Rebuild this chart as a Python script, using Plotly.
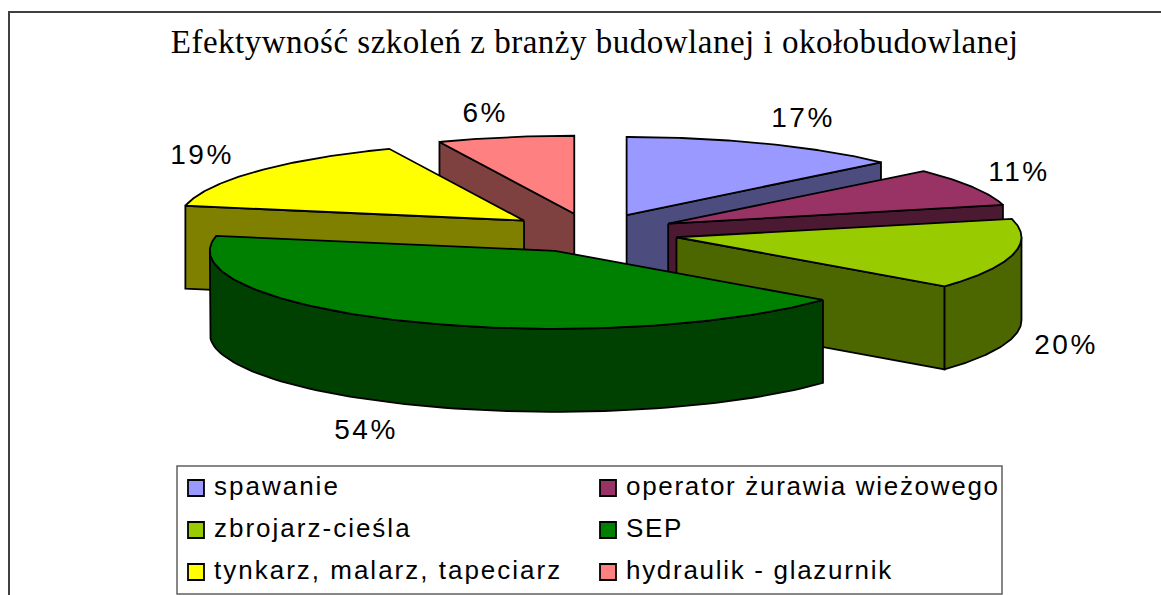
import numpy as np
import plotly.graph_objects as go

TITLE = "Efektywność szkoleń z branży budowlanej i okołobudowlanej"
categories = ["spawanie", "operator żurawia wieżowego", "zbrojarz-cieśla",
              "SEP", "tynkarz, malarz, tapeciarz", "hydraulik - glazurnik"]
percent_labels = ["17%", "11%", "20%", "54%", "19%", "6%"]
# Drawn sweep of each slice (degrees, clockwise from top)
slice_sweep = [47.5, 28.5, 53, 152, 56, 23]

colors = ["#9999FF", "#993366", "#99CC00", "#008000", "#FFFF00", "#FF8080"]

# geometry of the tilted pie on a pixel-sized canvas
CX, CY, RX, RY, DEPTH, EXPLODE = 591.6, 233.0, 345.0, 78.0, 83.0, 0.252
LABEL_XY = [(803, 117), (1019, 171), (1066, 344), (366, 429), (202, 154), (485, 112)]
PAINT_ORDER = [0, 5, 1, 4, 2, 3]
LEG_ROWS = [488, 530, 572]
LEG_COLS = [196, 608]


def shade(hex_color):
    r, g, b = (int(hex_color[i:i + 2], 16) // 2 for i in (1, 3, 5))
    return f"rgb({r},{g},{b})"


def pt(ax, ay, deg):
    t = np.radians(deg)
    return ax + RX * np.sin(t), ay - RY * np.cos(t)


fig = go.Figure()


def face(xs, ys, fill):
    fig.add_trace(go.Scatter(x=list(xs), y=list(ys), mode="lines", fill="toself",
                             fillcolor=fill, line=dict(color="black", width=1.8),
                             hoverinfo="skip", showlegend=False))


edges = np.concatenate([[0], np.cumsum(slice_sweep)])
edges = edges * 360.0 / edges[-1]

for i in PAINT_ORDER:
    a0, a1 = edges[i], edges[i + 1]
    mid = np.radians((a0 + a1) / 2)
    ax = CX + EXPLODE * RX * np.sin(mid)
    ay = CY - EXPLODE * RY * np.cos(mid)
    dark = shade(colors[i])
    # visible radial faces
    if np.sin(np.radians(a1)) > 0:
        x1, y1 = pt(ax, ay, a1)
        face([ax, x1, x1, ax, ax], [ay, y1, y1 + DEPTH, ay + DEPTH, ay], dark)
    if np.sin(np.radians(a0)) < 0:
        x0, y0 = pt(ax, ay, a0)
        face([ax, x0, x0, ax, ax], [ay, y0, y0 + DEPTH, ay + DEPTH, ay], dark)
    # visible part of outer wall
    lo, hi = max(a0, 90), min(a1, 270)
    if hi > lo:
        arc = np.linspace(lo, hi, 80)
        xa, ya = pt(ax, ay, arc)
        face(np.r_[xa, xa[::-1], xa[0]], np.r_[ya, ya[::-1] + DEPTH, ya[0]], dark)
    # top surface
    arc = np.linspace(a0, a1, 120)
    xa, ya = pt(ax, ay, arc)
    face(np.r_[ax, xa, ax], np.r_[ay, ya, ay], colors[i])

# legend swatches
for i, c in enumerate(colors):
    fig.add_trace(go.Scatter(x=[LEG_COLS[i % 2]], y=[LEG_ROWS[i // 2]], mode="markers",
                             marker=dict(symbol="square", size=16, color=c,
                                         line=dict(color="black", width=1.8)),
                             hoverinfo="skip", showlegend=False))

ann = [dict(x=594, y=42, text=TITLE, showarrow=False, xanchor="center", yanchor="middle",
            font=dict(family="Liberation Serif", size=33, color="black"))]
for (x, y), t in zip(LABEL_XY, percent_labels):
    ann.append(dict(x=x, y=y, text=t, showarrow=False, xanchor="center", yanchor="middle",
                    font=dict(family="Liberation Sans", size=28, color="black")))
for i, t in enumerate(categories):
    ann.append(dict(x=LEG_COLS[i % 2] + 16, y=LEG_ROWS[i // 2] - 2, text=t, showarrow=False,
                    xanchor="left", yanchor="middle", align="left",
                    font=dict(family="Liberation Sans", size=26, color="black")))

shapes = [
    dict(type="path", path="M 9 595 L 9 12 L 1161 12", line=dict(color="#404040", width=2)),
    dict(type="rect", x0=177, y0=466, x1=1002, y1=594, line=dict(color="#606060", width=1.5),
         fillcolor="white", layer="below"),
]

fig.update_layout(
    width=1161, height=595, autosize=False,
    margin=dict(l=0, r=0, t=0, b=0),
    paper_bgcolor="white", plot_bgcolor="white",
    xaxis=dict(range=[0, 1161], visible=False, fixedrange=True),
    yaxis=dict(range=[595, 0], visible=False, fixedrange=True),
    annotations=ann, shapes=shapes,
)

JS = """
document.body.style.margin='0';document.body.style.overflow='hidden';
document.querySelectorAll('.annotation-text').forEach(function(t,i){
  var s = '0.5px';
  if (i>=1 && i<7) s = '2.5px';
  if (i>=7) s = ((i-7)%2===0) ? '2px' : '1.7px';
  t.style.letterSpacing = s;
});
"""
fig.write_html("out.html", config={"displayModeBar": False}, post_script=JS)
